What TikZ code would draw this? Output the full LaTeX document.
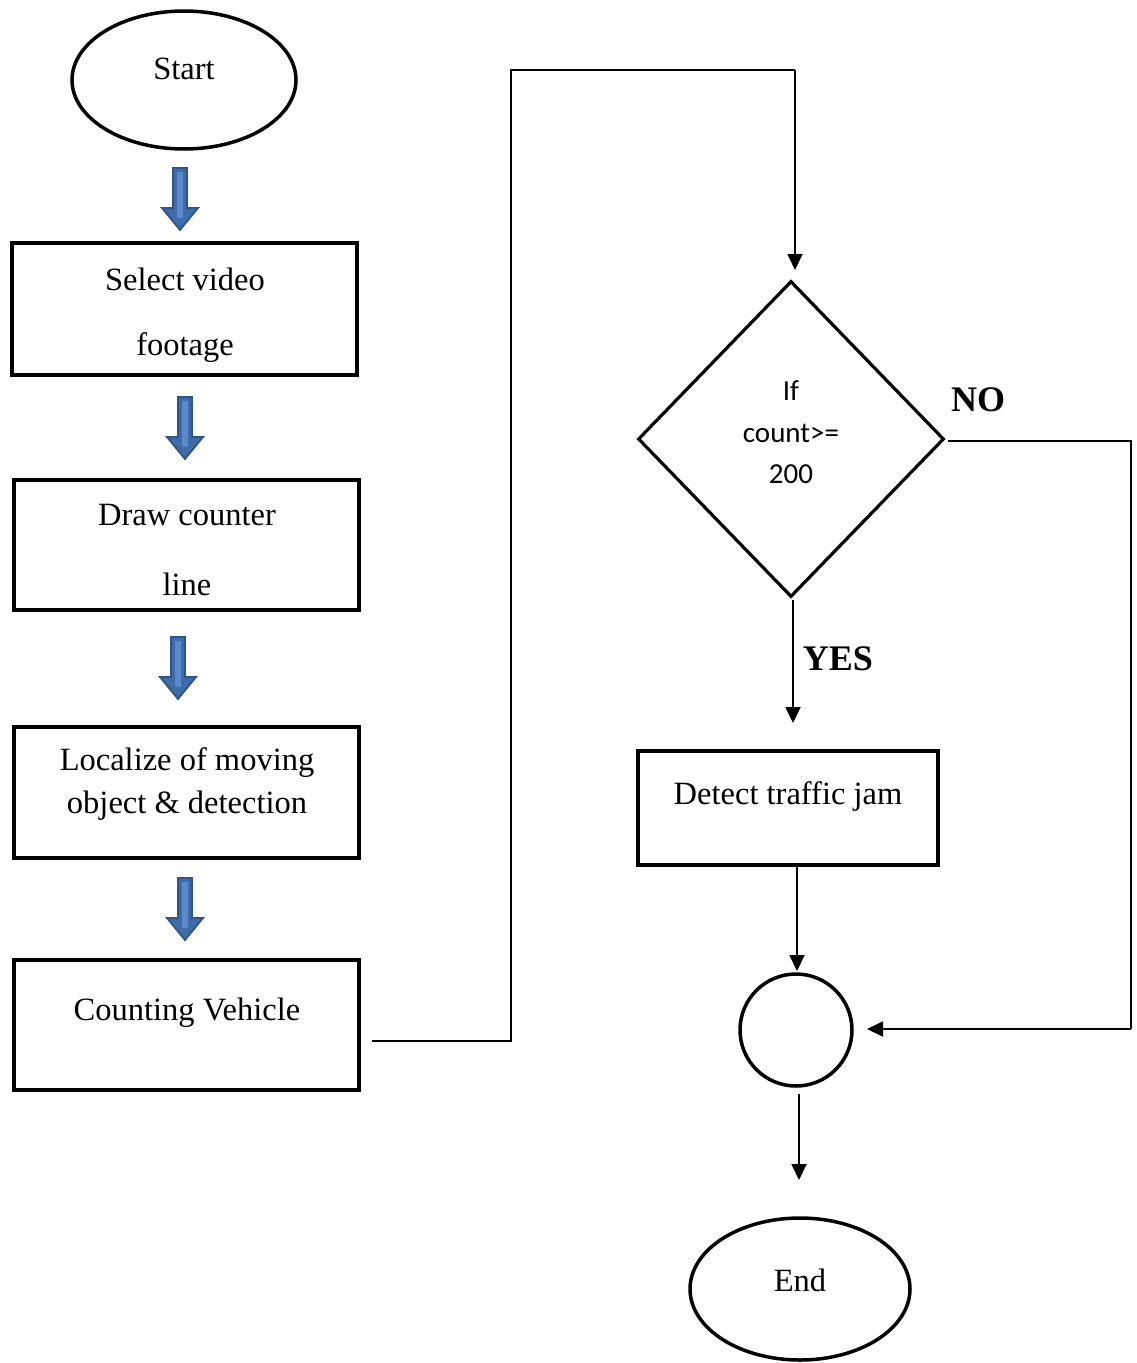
\documentclass[tikz,border=0pt]{standalone}
\usepackage{fontspec}
\setmainfont{Liberation Serif}
\newfontfamily\calib{Carlito}
\usetikzlibrary{shapes.geometric,arrows.meta}
\definecolor{bafill}{HTML}{3F6CA6}
\definecolor{bainner}{HTML}{5A8ACB}
\definecolor{badraw}{HTML}{2F5487}
\tikzset{
  boxnode/.style={draw,line width=3.5pt,rectangle,inner sep=0pt,outer sep=0pt,anchor=north west},
  ovalnode/.style={draw,line width=3.5pt,ellipse,inner sep=0pt},
  txt/.style={font=\fontsize{32.5}{37}\selectfont,inner sep=0pt,yshift=-3pt},
  stxt/.style={font=\calib\fontsize{29}{33}\selectfont,inner sep=0pt},
  btxt/.style={font=\bfseries\fontsize{36}{40}\selectfont,inner sep=0pt},
  conn/.style={line width=1.8pt},
  arr/.style={line width=1.8pt,-{Triangle[length=16pt,width=15pt]}},
  blockarrow/.pic={
    \filldraw[fill=bafill,draw=badraw,line width=1.8pt]
      (-7,0) -- (7,0) -- (7,40) -- (18,40) -- (0,62) -- (-18,40) -- (-7,40) -- cycle;
    \fill[color=bainner] (-3,4) -- (3,4) -- (3,50) -- (-3,50) -- cycle;
  }
}
\begin{document}
\begin{tikzpicture}[x=1pt,y=-1pt]
\useasboundingbox (0,0) rectangle (1137,1363);
% left column
\node[ovalnode,minimum width=224pt,minimum height=138pt] (start) at (184,80) {};
\node[txt] (starttxt) at (184,66) {Start};
\pic at (180,168) {blockarrow};
\node[boxnode,minimum width=345pt,minimum height=132pt] (b1) at (12,243) {};
\node[txt] (b1a) at (185,276) {Select video};
\node[txt] (b1b) at (185,345) {footage};
\pic at (185,397) {blockarrow};
\node[boxnode,minimum width=345pt,minimum height=130pt] (b2) at (14,480) {};
\node[txt] (b2a) at (187,512) {Draw counter};
\node[txt] (b2b) at (187,581) {line};
\pic at (178,637) {blockarrow};
\node[boxnode,minimum width=345pt,minimum height=131pt] (b3) at (14,727) {};
\node[txt] (b3a) at (187,760) {Localize of moving};
\node[txt] (b3b) at (187,803) {object \& detection};
\pic at (185,878) {blockarrow};
\node[boxnode,minimum width=345pt,minimum height=130pt] (b4) at (14,960) {};
\node[txt] (b4a) at (187,1010) {Counting Vehicle};
% loop connector
\coordinate (c1) at (372,1041);
\coordinate (c2) at (511,1041);
\coordinate (c3) at (511,70);
\coordinate (c4) at (795,70);
\node[diamond,draw,line width=3.2pt,minimum width=306pt,minimum height=316pt,inner sep=0pt] (dec) at (791,439) {};
\node[stxt] (d1) at (791,391) {If};
\node[stxt] (d2) at (791,433) {count>=};
\node[stxt] (d3) at (791,474) {200};
\draw[conn] (c1) -- (c2) -- (c3) -- (c4);
\draw[arr] (c4) -- (795,270);
% YES
\draw[arr] (793,600) -- (793,723);
\node[btxt] (yes) at (838,659) {YES};
\node[btxt] (no) at (978,400) {NO};
\node[boxnode,minimum width=300pt,minimum height=114pt] (det) at (638,751) {};
\node[txt] (dett) at (788,794) {Detect traffic jam};
\node[draw,circle,line width=3.5pt,minimum size=112pt,inner sep=0pt] (join) at (796,1030) {};
\draw[arr] (797,867) -- (797,971);
\coordinate (n1) at (948,441);
\coordinate (n2) at (1131,441);
\coordinate (n3) at (1131,1029);
\draw[conn] (n1) -- (n2) -- (n3);
\draw[arr] (n3) -- (867,1029);
\draw[arr] (799,1094) -- (799,1180);
\node[ovalnode,minimum width=220pt,minimum height=142pt] (end) at (800,1289) {};
\node[txt] (endt) at (800,1277) {End};
\end{tikzpicture}
\end{document}
